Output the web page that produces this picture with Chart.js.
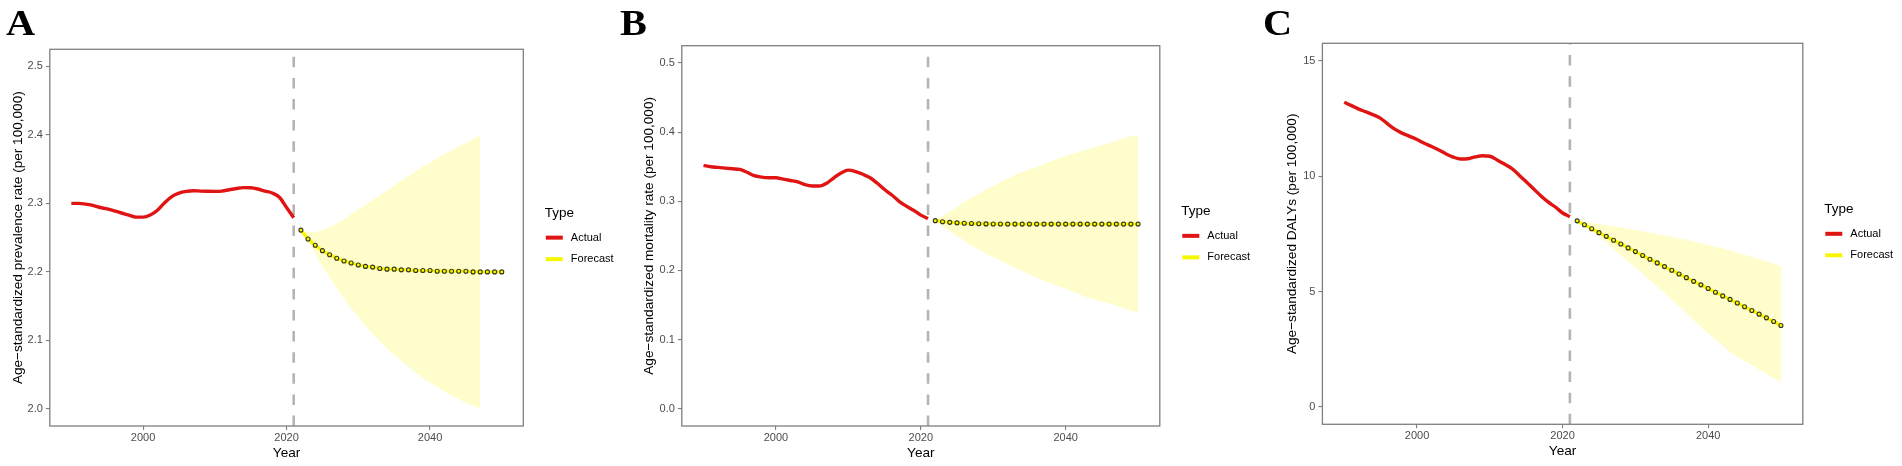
<!DOCTYPE html>
<html>
<head>
<meta charset="utf-8">
<script src="https://cdn.jsdelivr.net/npm/chart.js@4.4.0/dist/chart.umd.min.js"></script>
<style>
  html, body { margin: 0; padding: 0; background: #fff; }
  body { width: 1902px; height: 466px; position: relative; overflow: hidden; }
  canvas { position: absolute; top: 0; }
  .tag { position: absolute; top: 5px; z-index: 2; font: bold 36px "Liberation Serif", "Times New Roman", serif;
         line-height: 36px; color: #000; transform: scaleX(1.12); transform-origin: left center; }
</style>
</head>
<body>
<canvas id="chartA" width="630" height="466" style="left:0px;width:630px;height:466px"></canvas>
<canvas id="chartB" width="632" height="466" style="left:630px;width:632px;height:466px"></canvas>
<canvas id="chartC" width="640" height="466" style="left:1262px;width:640px;height:466px"></canvas>
<div class="tag" style="left:6px">A</div>
<div class="tag" style="left:620px">B</div>
<div class="tag" style="left:1263px">C</div>
<script>
const FONT = '"Liberation Sans", Arial, sans-serif';

// ---- data ----
const legendTitle = 'Type';
const seriesNames = ['Actual', 'Forecast'];
const xTicks = [2000, 2020, 2040];
const cutYear = 2021;

const actualYears = [1990, 1991, 1992, 1993, 1994, 1995, 1996, 1997, 1998, 1999,
  2000, 2001, 2002, 2003, 2004, 2005, 2006, 2007, 2008, 2009,
  2010, 2011, 2012, 2013, 2014, 2015, 2016, 2017, 2018, 2019, 2020, 2021];
const forecastYears = [2022, 2023, 2024, 2025, 2026, 2027, 2028, 2029, 2030, 2031,
  2032, 2033, 2034, 2035, 2036, 2037, 2038, 2039, 2040, 2041,
  2042, 2043, 2044, 2045, 2046, 2047, 2048, 2049, 2050];
const prevBandYears = [2022, 2023, 2024, 2025, 2026, 2027, 2028, 2029, 2030, 2031,
  2032, 2033, 2034, 2035, 2036, 2037, 2038, 2039, 2040, 2041,
  2042, 2043, 2044, 2045, 2046, 2047];

// A: prevalence
const prevTicks = [2.0, 2.1, 2.2, 2.3, 2.4, 2.5];
const prevActual = [2.300, 2.300, 2.299, 2.297, 2.294, 2.292, 2.289, 2.286, 2.283, 2.280,
  2.280, 2.283, 2.290, 2.301, 2.310, 2.315, 2.3175, 2.3185, 2.318, 2.3177,
  2.3176, 2.318, 2.320, 2.3218, 2.323, 2.3228, 2.321, 2.318, 2.3152, 2.309, 2.294, 2.279];
const prevForecast = [2.261, 2.248, 2.239, 2.231, 2.225, 2.220, 2.216, 2.213, 2.210, 2.208,
  2.207, 2.205, 2.204, 2.204, 2.203, 2.203, 2.202, 2.202, 2.202, 2.201,
  2.201, 2.201, 2.201, 2.201, 2.200, 2.200, 2.200, 2.200, 2.200];
const prevUpper = [2.261, 2.258, 2.258, 2.261, 2.265, 2.271, 2.277, 2.284, 2.291, 2.298,
  2.305, 2.312, 2.319, 2.326, 2.333, 2.340, 2.347, 2.354, 2.359, 2.366,
  2.372, 2.377, 2.383, 2.388, 2.394, 2.400];
const prevLower = [2.261, 2.244, 2.226, 2.208, 2.192, 2.176, 2.161, 2.147, 2.134, 2.121,
  2.110, 2.099, 2.088, 2.079, 2.070, 2.062, 2.053, 2.045, 2.038, 2.032,
  2.025, 2.019, 2.014, 2.009, 2.005, 2.001];

// B: mortality
const mortTicks = [0.0, 0.1, 0.2, 0.3, 0.4, 0.5];
const mortActual = [0.352, 0.350, 0.349, 0.348, 0.347, 0.346, 0.342, 0.337, 0.335, 0.334,
  0.334, 0.332, 0.330, 0.328, 0.324, 0.322, 0.322, 0.326, 0.334, 0.341,
  0.345, 0.343, 0.339, 0.334, 0.326, 0.317, 0.309, 0.300, 0.293, 0.287, 0.280, 0.275];
const mortForecast = [0.272, 0.2705, 0.2695, 0.2688, 0.2682, 0.2678, 0.2675, 0.2673, 0.2672, 0.2671,
  0.267, 0.267, 0.267, 0.267, 0.267, 0.267, 0.267, 0.267, 0.267, 0.267,
  0.267, 0.267, 0.267, 0.267, 0.267, 0.267, 0.267, 0.267, 0.267];
const mortUpper = [0.272, 0.279, 0.285, 0.292, 0.299, 0.305, 0.311, 0.317, 0.322, 0.328,
  0.333, 0.338, 0.342, 0.346, 0.350, 0.354, 0.358, 0.362, 0.365, 0.369,
  0.372, 0.375, 0.378, 0.381, 0.384, 0.388, 0.391, 0.394, 0.396];
const mortLower = [0.272, 0.264, 0.257, 0.250, 0.243, 0.236, 0.230, 0.224, 0.219, 0.214,
  0.209, 0.204, 0.199, 0.194, 0.189, 0.185, 0.181, 0.177, 0.173, 0.169,
  0.165, 0.161, 0.158, 0.155, 0.152, 0.149, 0.145, 0.142, 0.139];

// C: DALYs
const dalyTicks = [0, 5, 10, 15];
const dalyActual = [13.2, 13.05, 12.9, 12.78, 12.65, 12.5, 12.25, 12.02, 11.85, 11.72,
  11.58, 11.42, 11.28, 11.13, 10.96, 10.82, 10.74, 10.75, 10.83, 10.88,
  10.86, 10.70, 10.52, 10.33, 10.05, 9.75, 9.45, 9.15, 8.88, 8.66, 8.40, 8.24];
const dalyForecast = [8.06, 7.89, 7.72, 7.55, 7.39, 7.22, 7.06, 6.89, 6.73, 6.56,
  6.40, 6.24, 6.08, 5.92, 5.76, 5.60, 5.44, 5.29, 5.13, 4.97,
  4.81, 4.66, 4.50, 4.34, 4.18, 4.02, 3.86, 3.70, 3.53];
const dalyUpper = [8.08, 8.02, 7.97, 7.92, 7.87, 7.82, 7.77, 7.71, 7.66, 7.61,
  7.55, 7.49, 7.43, 7.37, 7.30, 7.24, 7.17, 7.10, 7.02, 6.94,
  6.86, 6.77, 6.68, 6.59, 6.49, 6.40, 6.30, 6.20, 6.09];
const dalyLower = [8.08, 7.85, 7.61, 7.37, 7.11, 6.84, 6.57, 6.30, 6.04, 5.77,
  5.49, 5.22, 4.95, 4.66, 4.36, 4.06, 3.76, 3.46, 3.19, 2.92,
  2.65, 2.39, 2.18, 2.00, 1.81, 1.62, 1.44, 1.25, 1.07];

// ---- helpers ----
const pts = (xs, ys) => xs.map((x, i) => ({x: x, y: ys[i]}));

const frameAndLegend = {
  id: 'frameAndLegend',
  afterDraw(chart) {
    const {ctx, chartArea: a} = chart;
    ctx.save();
    ctx.strokeStyle = '#7f7f7f';
    ctx.lineWidth = 1.3;
    ctx.strokeRect(a.left, a.top, a.right - a.left, a.bottom - a.top);

    const x0 = a.right + 21.5;
    const cy = (a.top + a.bottom) / 2;
    ctx.textBaseline = 'middle';
    ctx.textAlign = 'left';
    ctx.fillStyle = '#000';
    ctx.font = '13.5px ' + FONT;
    ctx.fillText(legendTitle, x0, cy - 24.5);
    ctx.font = '11px ' + FONT;
    seriesNames.forEach((name, i) => {
      const ds = chart.data.datasets.find(d => d.label === name);
      const y = cy + i * 21.5;
      ctx.strokeStyle = ds.borderColor;
      ctx.lineWidth = 4;
      ctx.beginPath();
      ctx.moveTo(x0 + 1, y);
      ctx.lineTo(x0 + 18, y);
      ctx.stroke();
      ctx.fillText(name, x0 + 26, y);
    });
    ctx.restore();
  }
};

function makePanel(p) {
  const H = 466;
  const yLo = p.yTicks[0], yHi = p.yTicks[p.yTicks.length - 1];
  const yPad = 0.05 * (yHi - yLo);
  const xLo = actualYears[0], xHi = forecastYears[forecastYears.length - 1];
  const xPad = 0.05 * (xHi - xLo);
  const titleSize = 13.6, half = titleSize * 1.2 / 2;

  new Chart(document.getElementById(p.id), {
    type: 'line',
    data: {
      datasets: [
        {
          label: 'Forecast',
          data: pts(forecastYears, p.forecast),
          borderColor: '#f7f700',
          borderWidth: 3.2,
          pointRadius: 2,
          pointBorderWidth: 1.1,
          pointBackgroundColor: '#f7f700',
          pointBorderColor: '#33332a',
          fill: false
        },
        {
          label: 'Actual',
          data: pts(actualYears, p.actual),
          borderColor: '#e11414',
          borderWidth: 3.4,
          pointRadius: 0,
          cubicInterpolationMode: 'monotone',
          fill: false
        },
        {
          label: 'upper',
          data: pts(p.bandYears, p.upper),
          borderWidth: 0,
          pointRadius: 0,
          backgroundColor: '#fffdcc',
          fill: '+1'
        },
        {
          label: 'lower',
          data: pts(p.bandYears, p.lower),
          borderWidth: 0,
          pointRadius: 0,
          fill: false
        },
        {
          label: 'cut',
          data: [{x: cutYear, y: yLo - yPad}, {x: cutYear, y: yHi + yPad}],
          borderColor: '#b4b4b4',
          borderWidth: 2.6,
          borderDash: [10.5, 10.6],
          pointRadius: 0,
          fill: false
        }
      ]
    },
    options: {
      responsive: false,
      animation: false,
      events: [],
      layout: {
        autoPadding: false,
        padding: {left: 0, top: p.box.t, right: p.w - p.box.r, bottom: 0}
      },
      plugins: {legend: {display: false}, tooltip: {enabled: false}},
      scales: {
        x: {
          type: 'linear',
          min: xLo - xPad,
          max: xHi + xPad,
          afterBuildTicks: s => { s.ticks = xTicks.map(v => ({value: v})); },
          afterFit: s => { s.height = H - p.box.b; },
          ticks: {color: '#4d4d4d', font: {family: FONT, size: 11}, padding: 1, maxRotation: 0,
                  autoSkip: false, callback: v => String(v)},
          grid: {drawOnChartArea: false, drawTicks: true, tickLength: 4, color: '#7f7f7f', lineWidth: 1.1},
          border: {display: false},
          title: {display: true, text: 'Year', color: '#000', font: {family: FONT, size: titleSize},
                  padding: {top: 0, bottom: H - half - (p.box.b + 27)}}
        },
        y: {
          type: 'linear',
          min: yLo - yPad,
          max: yHi + yPad,
          afterBuildTicks: s => { s.ticks = p.yTicks.map(v => ({value: v})); },
          afterFit: s => { s.width = p.box.l; },
          ticks: {color: '#4d4d4d', font: {family: FONT, size: 11}, padding: 3,
                  callback: v => Number(v).toFixed(p.dec)},
          grid: {drawOnChartArea: false, drawTicks: true, tickLength: 4, color: '#7f7f7f', lineWidth: 1.1},
          border: {display: false},
          title: {display: true, text: p.yTitle, color: '#000', font: {family: FONT, size: titleSize},
                  padding: {top: p.titleX - half, bottom: 0}}
        }
      }
    },
    plugins: [frameAndLegend]
  });
}

makePanel({
  id: 'chartA', w: 630, box: {l: 49.8, t: 49.3, r: 523.3, b: 426}, titleX: 18.4,
  yTitle: 'Age\u2212standardized prevalence rate (per 100,000)', yTicks: prevTicks, dec: 1,
  actual: prevActual, forecast: prevForecast, bandYears: prevBandYears, upper: prevUpper, lower: prevLower
});
makePanel({
  id: 'chartB', w: 632, box: {l: 51.8, t: 45.7, r: 529.8, b: 426}, titleX: 19.6,
  yTitle: 'Age\u2212standardized mortality rate (per 100,000)', yTicks: mortTicks, dec: 1,
  actual: mortActual, forecast: mortForecast, bandYears: forecastYears, upper: mortUpper, lower: mortLower
});
makePanel({
  id: 'chartC', w: 640, box: {l: 60.4, t: 43.3, r: 540.8, b: 424.3}, titleX: 30.6,
  yTitle: 'Age\u2212standardized DALYs (per 100,000)', yTicks: dalyTicks, dec: 0,
  actual: dalyActual, forecast: dalyForecast, bandYears: forecastYears, upper: dalyUpper, lower: dalyLower
});
</script>
</body>
</html>
